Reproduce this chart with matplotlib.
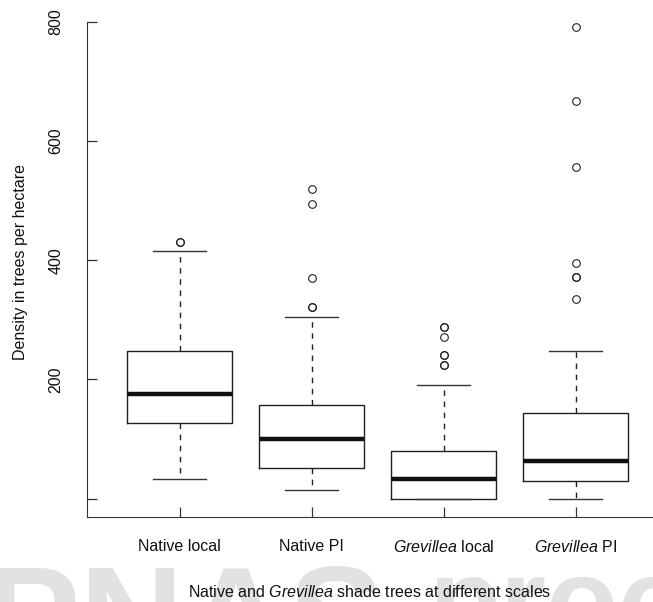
import matplotlib
matplotlib.use("Agg")
import matplotlib.pyplot as plt

plt.rcParams["font.family"] = ["Liberation Sans", "DejaVu Sans"]
plt.rcParams["mathtext.fontset"] = "custom"
plt.rcParams["mathtext.rm"] = "Liberation Sans"
plt.rcParams["mathtext.it"] = "Liberation Sans:italic"

group_labels = [
    "Native local",
    "Native PI",
    r"$\it{Grevillea}$ local",
    r"$\it{Grevillea}$ PI",
]

# five-number summaries
lower_whisker = [33.5, 14.0, 0.0, 0.0]
first_quartile = [127.5, 51.0, 0.0, 29.0]
medians = [176.0, 100.0, 33.0, 62.5]
third_quartile = [247.0, 157.0, 80.0, 143.0]
upper_whisker = [415.0, 304.0, 191.0, 248.0]

# outliers (repeated values show as heavier circles)
outliers = [
    [430.0, 430.0],
    [520.0, 495.0, 370.0, 321.0, 321.0],
    [288.0, 288.0, 272.0, 241.0, 241.0, 225.0, 225.0],
    [791.0, 667.0, 556.0, 395.0, 372.0, 372.0, 335.0],
]

y_ticks = [0, 200, 400, 600, 800]
y_tick_labels = ["", "200", "400", "600", "800"]

box_stats = []
for i in range(len(group_labels)):
    box_stats.append(
        {
            "whislo": lower_whisker[i],
            "q1": first_quartile[i],
            "med": medians[i],
            "q3": third_quartile[i],
            "whishi": upper_whisker[i],
            "fliers": outliers[i],
        }
    )

fig = plt.figure(figsize=(6.53, 6.02), dpi=100)

# faint watermark behind the chart
fig.text(
    -0.025, 1 - 668 / 602, "PNAS",
    fontsize=104, fontweight="bold", color="#e2e2e2",
    ha="left", va="baseline", zorder=-5,
)
fig.text(
    428 / 653, 1 - 641 / 602, "proof",
    fontsize=85, fontweight="bold", color="#e2e2e2",
    ha="left", va="baseline", zorder=-5,
)

ax = fig.add_axes([87 / 653, 1 - 517 / 602, 1 - 87 / 653, (517 - 22) / 602])
ax.patch.set_alpha(0)

ax.bxp(
    box_stats,
    positions=[1, 2, 3, 4],
    widths=0.8,
    capwidths=0.4,
    boxprops={"color": "#222222", "linewidth": 1.0},
    medianprops={"color": "#111111", "linewidth": 3.2, "solid_capstyle": "butt"},
    whiskerprops={"color": "#222222", "linewidth": 1.0, "linestyle": (0, (4, 4))},
    capprops={"color": "#333333", "linewidth": 1.0},
    flierprops={
        "marker": "o",
        "markersize": 5.5,
        "markerfacecolor": "none",
        "markeredgecolor": "#222222",
        "markeredgewidth": 0.8,
        "linestyle": "none",
    },
)

ax.set_xlim(0.298, 4.586)
ax.set_ylim(-31, 800)

ax.set_xticks([1, 2, 3, 4])
ax.set_xticklabels(group_labels)
ax.set_yticks(y_ticks)
ax.set_yticklabels(y_tick_labels, rotation=90, va="center")

ax.tick_params(axis="both", direction="in", length=7.5, width=0.9,
               color="#333333", labelsize=11.5, labelcolor="#111111")
ax.tick_params(axis="x", pad=16)
ax.tick_params(axis="y", pad=17)

ax.spines["top"].set_visible(False)
ax.spines["right"].set_visible(False)
ax.spines["left"].set_color("#333333")
ax.spines["bottom"].set_color("#333333")

ax.set_xlabel(r"Native and $\it{Grevillea}$ shade trees at different scales",
              fontsize=11.5, color="#111111")
ax.xaxis.set_label_coords(0.5, -(584 - 517) / 495)
ax.set_ylabel("Density in trees per hectare", fontsize=11.5, color="#111111")
ax.yaxis.set_label_coords(-(87 - 28) / 566, (517 - 262) / 495)

fig.savefig("out.png", dpi=100)
